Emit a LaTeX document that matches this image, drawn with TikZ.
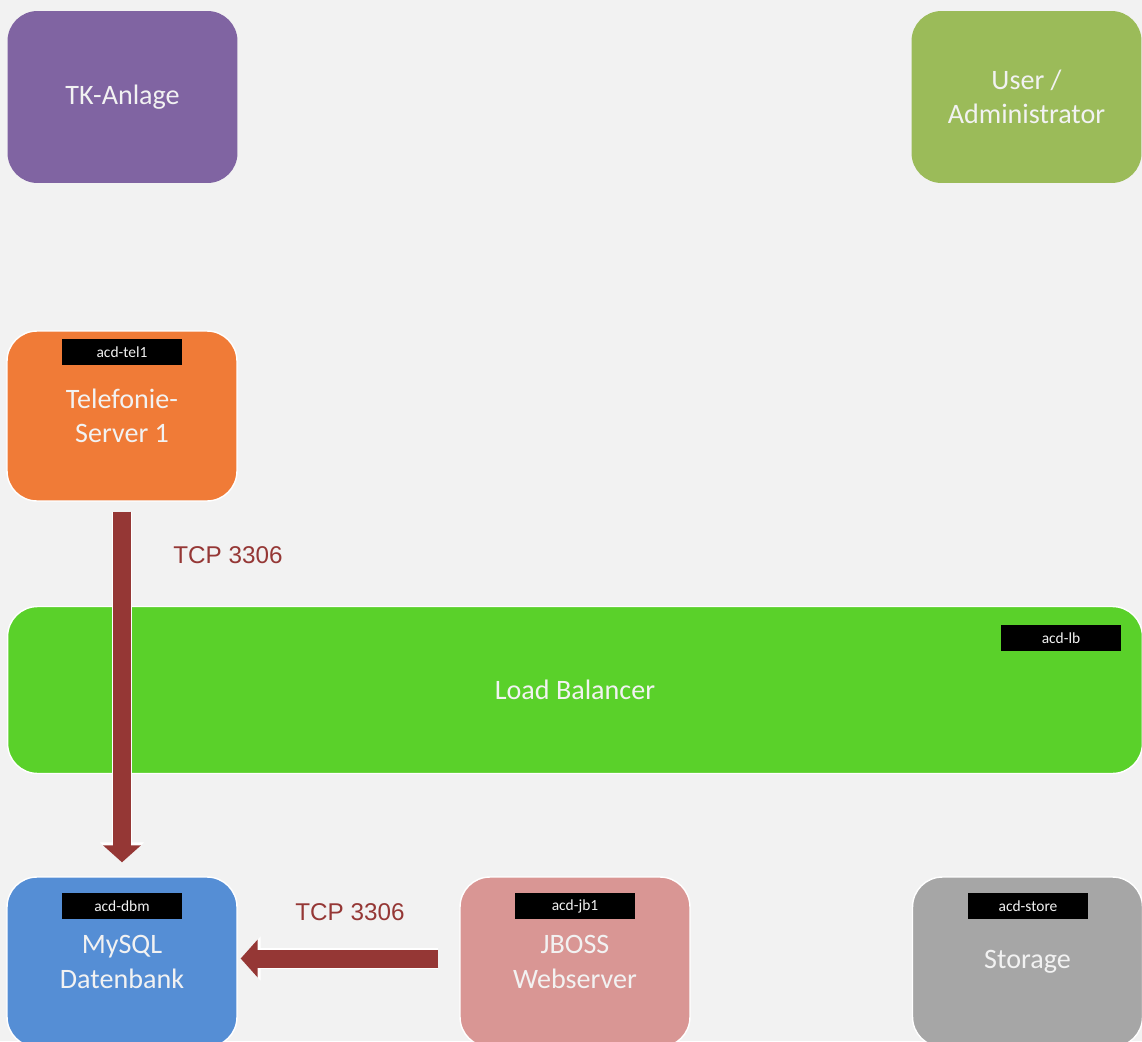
\documentclass[tikz,border=0pt]{standalone}
\usepackage{fontspec}
\setmainfont{Carlito}
\newfontfamily\labelfont{Liberation Sans}
\usetikzlibrary{arrows.meta}
\definecolor{bggray}{HTML}{F2F2F2}
\definecolor{tkpurple}{HTML}{8064A2}
\definecolor{usergreen}{HTML}{9BBB59}
\definecolor{telorange}{HTML}{F07B37}
\definecolor{lbgreen}{HTML}{5AD12A}
\definecolor{dbblue}{HTML}{558ED5}
\definecolor{jbpink}{HTML}{D99694}
\definecolor{storegray}{HTML}{A6A6A6}
\definecolor{arrowred}{HTML}{953735}
\tikzset{
  >=latex,
  box/.style={rounded corners=0.6cm, inner sep=0pt, align=center,
    minimum width=4.6cm, minimum height=3.4cm, text=bggray,
    font=\fontsize{16}{19.5}\selectfont},
  framed/.style={box, draw=white, line width=0.8pt},
  tag/.style={fill=black, text=bggray, inner sep=0pt,
    minimum width=2.4cm, minimum height=0.52cm,
    font=\fontsize{8.8}{10}\selectfont},
  flow/.style={line width=0.36cm, draw=arrowred,
    -{Triangle[width=0.74cm,length=0.34cm]},
    preaction={draw=white, line width=0.42cm,
      -{Triangle[width=0.86cm,length=0.4cm]}}},
  port/.style={text=arrowred, font=\labelfont\fontsize{13.8}{16}\selectfont},
}
\begin{document}
\begin{tikzpicture}[x=0.02cm,y=-0.02cm]
  \clip (0,0) rectangle (1142,1041);
  \fill[bggray] (0,0) rectangle (1142,1041);
  % top row
  \node[box, fill=tkpurple, minimum height=3.44cm] (tk) at (122.5,97) {TK-Anlage};
  \node[box, fill=usergreen, minimum height=3.44cm] (user) at (1026.5,97) {User /\\Administrator};
  % telephony
  \node[framed, fill=telorange] (tel) at (122,416) {Telefonie-\\Server 1};
  \node[tag] (tagtel) at (122,352) {acd-tel1};
  % load balancer
  \node[framed, fill=lbgreen, minimum width=22.7cm, minimum height=3.34cm] (lb) at (575,690) {Load Balancer};
  \node[tag] (taglb) at (1061,638) {acd-lb};
  % bottom row
  \node[framed, fill=dbblue] (db) at (122,962) {MySQL\\Datenbank};
  \node[tag] (tagdb) at (122,906) {acd-dbm};
  \node[framed, fill=jbpink] (jb) at (575,962) {JBOSS\\Webserver};
  \node[tag] (tagjb) at (575,906) {acd-jb1};
  \node[framed, fill=storegray] (store) at (1027.5,962) {Storage};
  \node[tag] (tagstore) at (1028,906) {acd-store};
  % connections
  \draw[flow, shorten <=0.2cm, shorten >=0.28cm] (tel.south) -- (db.north);
  \node[port] (porttel) at (228,555) {TCP 3306};
  \draw[flow, shorten <=0.42cm, shorten >=0.06cm] ([yshift=0.07cm]jb.west) -- ([yshift=0.07cm]db.east);
  \node[port] (portjb) at (350,912) {TCP 3306};
\end{tikzpicture}
\end{document}
